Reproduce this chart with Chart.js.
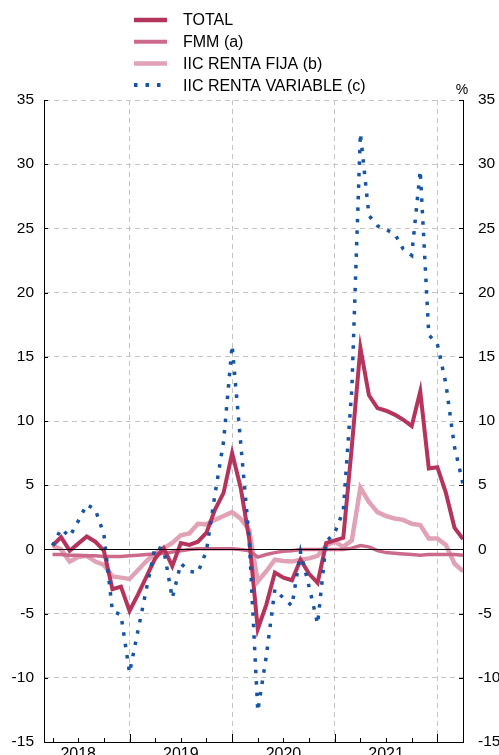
<!DOCTYPE html>
<html>
<head>
<meta charset="utf-8">
<script src="https://cdn.jsdelivr.net/npm/chart.js@4.4.1/dist/chart.umd.min.js"></script>
<style>
    html, body { margin: 0; padding: 0; background: #fff; overflow: hidden; }
    #wrap { position: relative; width: 499px; height: 755px; }
</style>
</head>
<body>
<div id="wrap"><canvas id="chart"></canvas></div>
<script>
// monthly data, Mar 2018 - Mar 2022 (%)
const months = [
    '2018-03','2018-04','2018-05','2018-06','2018-07','2018-08','2018-09','2018-10','2018-11','2018-12',
    '2019-01','2019-02','2019-03','2019-04','2019-05','2019-06','2019-07','2019-08','2019-09','2019-10','2019-11','2019-12',
    '2020-01','2020-02','2020-03','2020-04','2020-05','2020-06','2020-07','2020-08','2020-09','2020-10','2020-11','2020-12',
    '2021-01','2021-02','2021-03','2021-04','2021-05','2021-06','2021-07','2021-08','2021-09','2021-10','2021-11','2021-12',
    '2022-01','2022-02','2022-03'
];
const total = [0.3, 0.95, -0.1, 0.45, 1.0, 0.6, -0.1, -3.1, -2.9, -4.8,
    -3.5, -2.1, -0.7, 0.1, -1.3, 0.5, 0.35, 0.6, 1.3, 3.1,
    4.4, 7.5, 4.8, 0.8, -6.2, -4.3, -1.8, -2.2, -2.4, -0.8,
    -1.9, -2.6, 0.5, 0.7, 0.9, 8.0, 15.7, 12.0, 11.0, 10.8,
    10.5, 10.1, 9.6, 12.3, 6.3, 6.4, 4.4, 1.7, 0.8];
const fmm = [-0.4, -0.4, -0.45, -0.45, -0.5, -0.5, -0.55, -0.55, -0.55, -0.5,
    -0.45, -0.4, -0.35, -0.3, -0.2, -0.1, 0.0, 0.05, 0.05, 0.05,
    0.05, 0.05, 0.0, -0.1, -0.6, -0.4, -0.25, -0.15, -0.1, 0.0,
    0.0, 0.0, 0.0, 0.0, 0.0, 0.1, 0.3, 0.2, -0.1, -0.25,
    -0.3, -0.35, -0.4, -0.45, -0.4, -0.4, -0.4, -0.4, -0.45];
const rentaFija = [0.3, 0.0, -0.95, -0.6, -0.5, -0.95, -1.2, -2.1, -2.2, -2.3,
    -1.6, -0.9, -0.3, 0.1, 0.5, 1.1, 1.25, 2.0, 1.95, 2.3,
    2.6, 2.9, 2.4, 1.5, -2.5, -1.7, -0.8, -0.9, -0.95, -0.8,
    -0.7, -0.5, 0.3, 0.6, 0.2, 0.7, 4.8, 3.7, 2.9, 2.6,
    2.4, 2.3, 2.0, 1.9, 0.85, 0.85, 0.35, -1.1, -1.7];
const rentaVariable = [0.3, 1.6, 1.0, 2.2, 3.5, 3.1, 1.2, -4.8, -5.1, -9.6,
    -6.3, -3.0, 0.2, 0.0, -3.8, -1.1, -1.7, -1.8, -0.1, 4.3,
    8.4, 15.9, 8.3, 0.8, -12.6, -8.3, -3.1, -3.8, -4.4, -0.2,
    -2.9, -5.8, 0.6, 1.3, 3.0, 12.5, 32.4, 26.0, 25.2, 24.9,
    24.6, 23.4, 22.9, 29.5, 16.7, 16.0, 12.9, 8.0, 5.1];
const yearLabels = ['2018', '2019', '2020', '2021'];
const yMin = -15, yMax = 35, yStep = 5;

const FONT = '"Liberation Sans", Arial, Helvetica, sans-serif';

// month index counted from Dec 2017 (so Jan 2019 boundary = 12)
function monthPos(s) {
    const [y, m] = s.split('-').map(Number);
    return (y - 2018) * 12 + m;
}
const xs = months.map(monthPos);
const toPoints = vals => vals.map((v, i) => ({ x: xs[i], y: v }));

// y axes: fixed width, no extra label padding top/bottom
const fitY = w => s => {
    s.width = w;
    s.paddingTop = 0;
    s.paddingBottom = 0;
};

const extras = {
    id: 'extras',
    afterDatasetsDraw(chart) {
        const { ctx, chartArea: a, scales } = chart;
        const y0 = Math.round(scales.y.getPixelForValue(0)) + 0.5;
        ctx.save();
        ctx.strokeStyle = '#000';
        ctx.lineWidth = 1;
        ctx.beginPath();
        ctx.moveTo(a.left, y0);
        ctx.lineTo(a.right, y0);
        // inward tick marks
        scales.y.ticks.forEach(t => {
            const p = Math.round(scales.y.getPixelForValue(t.value)) + 0.5;
            ctx.moveTo(a.left, p); ctx.lineTo(a.left + 4, p);
            ctx.moveTo(a.right, p); ctx.lineTo(a.right - 4, p);
        });
        scales.x.ticks.forEach(t => {
            const p = Math.round(scales.x.getPixelForValue(t.value)) + 0.5;
            const len = t.value % 12 === 0 ? 8 : 4;
            ctx.moveTo(p, a.bottom); ctx.lineTo(p, a.bottom - len);
        });
        ctx.stroke();
        ctx.restore();
    },
    afterDraw(chart) {
        const ctx = chart.ctx;
        ctx.save();
        ctx.textBaseline = 'middle';
        ctx.textAlign = 'left';
        ctx.fillStyle = '#000';
        ctx.font = '16px ' + FONT;
        chart.data.datasets.forEach((ds, i) => {
            const y = 20 + i * 21.7;
            ctx.strokeStyle = ds.borderColor;
            ctx.lineWidth = ds.legendWidth;
            ctx.setLineDash(ds.borderDash || []);
            ctx.beginPath();
            ctx.moveTo(134, y);
            ctx.lineTo(167, y);
            ctx.stroke();
            ctx.fillText(ds.label, 183, y + 1);
        });
        ctx.setLineDash([]);
        ctx.font = '14px ' + FONT;
        ctx.textAlign = 'center';
        ctx.fillText('%', 462, 90);
        ctx.restore();
    }
};

const ctx = document.getElementById('chart');
new Chart(ctx, {
    type: 'line',
    data: {
        datasets: [{
            label: 'TOTAL',
            data: toPoints(total),
            borderColor: '#b5345b',
            borderWidth: 4,
            legendWidth: 4.5,
            order: 1
        }, {
            label: 'FMM (a)',
            data: toPoints(fmm),
            borderColor: '#cb6a8a',
            borderWidth: 3.5,
            legendWidth: 4,
            order: 2
        }, {
            label: 'IIC RENTA FIJA (b)',
            data: toPoints(rentaFija),
            borderColor: '#e2a2b5',
            borderWidth: 4.5,
            legendWidth: 4.5,
            order: 3
        }, {
            label: 'IIC RENTA VARIABLE (c)',
            data: toPoints(rentaVariable),
            borderColor: '#1654a5',
            borderWidth: 3.5,
            borderDash: [3.5, 8],
            borderCapStyle: 'butt',
            legendWidth: 4,
            order: 0
        }]
    },
    options: {
        responsive: true,
        maintainAspectRatio: false,
        animation: false,
        events: [],
        layout: { padding: { top: 100, left: 0, right: 0, bottom: 0 } },
        elements: {
            point: { radius: 0 },
            line: { tension: 0, fill: false }
        },
        scales: {
            x: {
                type: 'linear',
                min: 2,
                max: 51,
                afterBuildTicks: s => {
                    const t = [];
                    for (let v = 3; v <= 51; v += 3) t.push({ value: v });
                    s.ticks = t;
                },
                afterFit: s => {
                    s.height = 13;
                    s.paddingLeft = 0;
                    s.paddingRight = 0;
                },
                grid: {
                    color: c => (c.tick && c.tick.value % 12 === 0) ? '#c4c4c4' : 'rgba(0,0,0,0)',
                    lineWidth: 1,
                    drawTicks: false
                },
                border: { display: true, color: '#000', width: 1, dash: [5, 4] },
                ticks: {
                    autoSkip: false,
                    maxRotation: 0,
                    padding: 3,
                    color: '#000',
                    font: { family: FONT, size: 16 },
                    callback: v => v % 12 === 6 ? yearLabels[(v - 6) / 12] : ''
                }
            },
            y: {
                position: 'left',
                min: yMin,
                max: yMax,
                afterFit: fitY(44),
                grid: { color: '#c4c4c4', lineWidth: 1, drawTicks: false },
                border: { display: true, color: '#000', width: 1, dash: [5, 4] },
                ticks: {
                    stepSize: yStep,
                    padding: 10,
                    color: '#000',
                    font: { family: FONT, size: 15.5 }
                }
            },
            y2: {
                position: 'right',
                min: yMin,
                max: yMax,
                afterFit: fitY(36),
                grid: { drawOnChartArea: false, drawTicks: false },
                border: { display: true, color: '#000', width: 1 },
                ticks: {
                    stepSize: yStep,
                    padding: 15,
                    color: '#000',
                    font: { family: FONT, size: 15.5 }
                }
            }
        },
        plugins: {
            legend: { display: false },
            tooltip: { enabled: false }
        }
    },
    plugins: [extras]
});
</script>
</body>
</html>
